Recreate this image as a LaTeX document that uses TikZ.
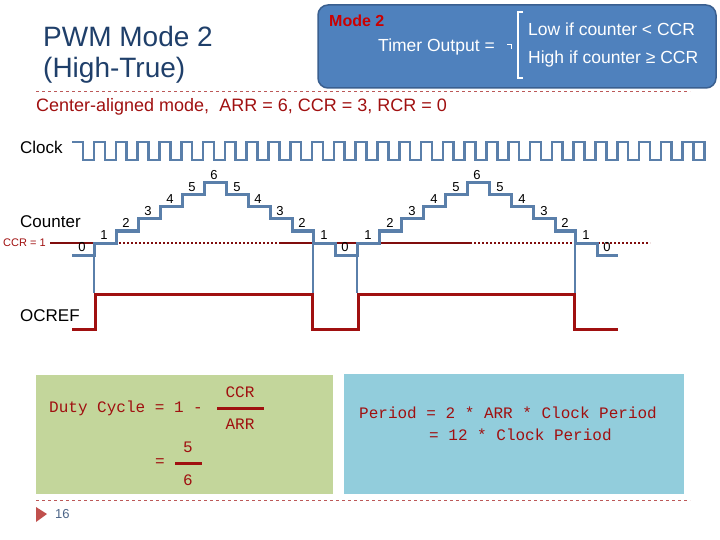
\documentclass[tikz,border=0pt]{standalone}
\usepackage{fontspec}
\setmainfont{Liberation Sans}
\setmonofont{Liberation Mono}
\definecolor{blueS}{HTML}{5A7FAA}
\definecolor{redS}{HTML}{A01010}
\definecolor{ttl}{HTML}{1F3F6A}
\definecolor{boxF}{RGB}{79,129,189}
\definecolor{boxD}{RGB}{58,95,143}
\definecolor{grn}{RGB}{195,214,155}
\definecolor{cyn}{RGB}{146,205,220}
\definecolor{tri}{RGB}{192,80,77}
\begin{document}
\begin{tikzpicture}[x=1pt,y=-1pt,
  sig/.style={draw=blueS,line width=3pt},
  red/.style={draw=redS,line width=3pt},
  lab/.style={inner sep=0pt,font=\fontsize{13}{13}\selectfont},
  mono/.style={inner sep=0pt,font=\ttfamily\fontsize{16}{16}\selectfont,text=redS},
  wt/.style={anchor=west,inner sep=0pt,text=white,font=\fontsize{17.5}{17.5}\selectfont},
  ]
\useasboundingbox (0,0) rectangle (720,540);
% title
\node[anchor=west,inner sep=0pt,text=ttl,font=\fontsize{28}{28}\selectfont] (t1) at (43,36) {PWM Mode 2};
\node[anchor=west,inner sep=0pt,text=ttl,font=\fontsize{28}{28}\selectfont] (t2) at (43,70) {(High-True)};
% box
\draw[fill=boxF,draw=boxD,line width=1.5pt,rounded corners=10pt] (318,5) rectangle (716,88);
\node[anchor=west,inner sep=0pt,text=red!80!black,font=\bfseries\fontsize{16}{16}\selectfont] (m2) at (329,21) {Mode 2};
\node[wt] (to) at (378,47) {Timer Output =};
\draw[white,line width=1pt] (507,45) -- (511,45) -- (511,49);
\draw[white,line width=1.5pt] (523,12) -- (518,12) -- (518,78) -- (523,78);
\node[wt] (lo) at (528,29) {Low if counter < CCR};
\node[wt] (hi) at (528,59) {High if counter ≥ CCR};
\draw[redS!70,dashed,line width=0.6pt] (36,91) -- (690,91);
\node[anchor=west,inner sep=0pt,text=redS,font=\fontsize{18}{18}\selectfont] (sub) at (36,107) {Center-aligned mode,\ \ ARR = 6, CCR = 3, RCR = 0};
% labels
\node[anchor=west,inner sep=0pt,font=\fontsize{17}{17}\selectfont] (ck) at (20,147) {Clock};
\node[anchor=west,inner sep=0pt,font=\fontsize{17}{17}\selectfont] (cn) at (20,222) {Counter};
\node[anchor=west,inner sep=0pt,font=\fontsize{17}{17}\selectfont] (oc) at (20,316) {OCREF};
\node[anchor=west,inner sep=0pt,text=redS,font=\fontsize{11}{11}\selectfont] (ccr) at (3,243) {CCR = 1};
% clock
\draw[sig,line width=2.6pt] (72,142) \foreach \i in {0,...,28} { -- ({83+21.8*\i},142) -- ({83+21.8*\i},160) -- ({94+21.8*\i},160) -- ({94+21.8*\i},142)} -- (695,142);
% CCR line
\draw[redS!80!black,line width=2pt] (50,243) -- (115,243);
\draw[redS!80!black,line width=2pt,dotted] (115,243) -- (279,243);
\draw[redS!80!black,line width=2pt] (279,243) -- (470,243);
\draw[redS!80!black,line width=2pt,dotted] (470,243) -- (650,243);
% counter
\draw[sig] (72,255) -- (94,255) -- (94,243) -- (116,243) -- (116,231) -- (138,231) -- (138,219) -- (160,219) -- (160,207) -- (182,207) -- (182,195) -- (204,195) -- (204,183) -- (226,183) -- (226,195) -- (248,195) -- (248,207) -- (270,207) -- (270,219) -- (292,219) -- (292,231) -- (313,231) -- (313,243) -- (335,243) -- (335,255) -- (357,255) -- (357,243) -- (379,243) -- (379,231) -- (401,231) -- (401,219) -- (423,219) -- (423,207) -- (445,207) -- (445,195) -- (467,195) -- (467,183) -- (489,183) -- (489,195) -- (511,195) -- (511,207) -- (533,207) -- (533,219) -- (555,219) -- (555,231) -- (575,231) -- (575,243) -- (597,243) -- (597,255) -- (618,255);
\foreach \xx/\yy in {94/243,313/231,357/243,575/231} \draw[sig,line width=2pt] (\xx,\yy) -- (\xx,293);
% counter numbers
\foreach \xx/\yy/\n in {82/247/0,104/235/1,126/223/2,148/211/3,170/199/4,192/187/5,214/175/6,237/187/5,258/199/4,280/211/3,302/223/2,324/235/1,345/247/0,368/235/1,390/223/2,412/211/3,434/199/4,456/187/5,477/175/6,500/187/5,522/199/4,544/211/3,565/223/2,586/235/1,607/247/0}
  \node[lab] (n\xx) at (\xx,\yy) {\n};
% OCREF
\draw[red] (72,329) -- (95,329) -- (95,294) -- (312,294) -- (312,329) -- (358,329) -- (358,294) -- (574,294) -- (574,329) -- (618,329);
% bottom boxes
\fill[grn] (36,375) rectangle (333,494);
\fill[cyn] (344,374) rectangle (684,494);
\node[mono,anchor=west] (dc) at (49,408) {Duty Cycle = 1 -};
\node[mono] (fc) at (240,392) {CCR};
\draw[redS,line width=3pt] (217,408) -- (264,408);
\node[mono] (fa) at (240,424) {ARR};
\node[mono] (eq) at (160,463) {=};
\node[mono] (f5) at (188,447) {5};
\draw[redS,line width=3pt] (175,463) -- (202,463);
\node[mono] (f6) at (188,480) {6};
\node[mono,anchor=west] (p1) at (359,413) {Period = 2 * ARR * Clock Period};
\node[mono,anchor=west] (p2) at (429,435) {= 12 * Clock Period};
\draw[redS!70,dashed,line width=0.6pt] (36,500) -- (690,500);
\fill[tri] (36,507) -- (47,514) -- (36,522) -- cycle;
\node[anchor=west,inner sep=0pt,text=ttl!80,font=\fontsize{13}{13}\selectfont] (pg) at (55,514) {16};
\end{tikzpicture}
\end{document}
